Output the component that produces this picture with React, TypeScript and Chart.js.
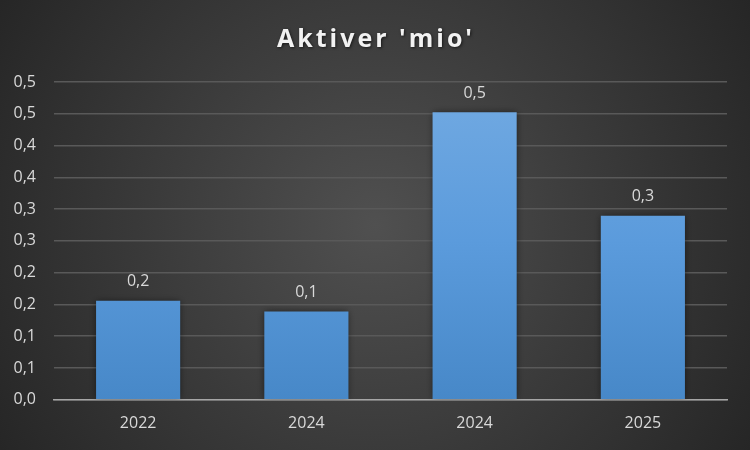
import React, { useEffect, useRef } from "react";
import { Chart, registerables } from "chart.js";

Chart.register(...registerables);

const categories = ["2022", "2024", "2024", "2025"];
const values = [0.156, 0.139, 0.4525, 0.2895];
const titleText = "Aktiver 'mio'";
const yMin = 0;
const yMax = 0.5;
const yStep = 0.05;

const fmt = (v: number) => (Math.round(v * 10 + 1e-6) / 10).toFixed(1).replace(".", ",");

const bgPlugin = {
  id: "bgPlugin",
  beforeDraw(chart: any) {
    const { ctx, width, height } = chart;
    ctx.save();
    const g = ctx.createRadialGradient(width / 2, height / 2, 0, width / 2, height / 2, Math.sqrt(width * width + height * height) / 2);
    g.addColorStop(0, "#505050");
    g.addColorStop(1, "#262626");
    ctx.fillStyle = g;
    ctx.fillRect(0, 0, width, height);
    ctx.restore();
  },
  afterDraw(chart: any) {
    const { ctx, width } = chart;
    ctx.save();
    ctx.font = "bold 25px 'Open Sans'";
    (ctx as any).letterSpacing = "3px";
    ctx.fillStyle = "#f2f2f2";
    ctx.textAlign = "center";
    ctx.textBaseline = "middle";
    ctx.shadowColor = "rgba(0,0,0,0.6)";
    ctx.shadowBlur = 3;
    ctx.shadowOffsetX = 1;
    ctx.shadowOffsetY = 1;
    ctx.fillText(titleText, width / 2 + 1, 40);
    ctx.restore();
  },
};

const shadowPlugin = {
  id: "shadowPlugin",
  beforeDatasetsDraw(chart: any) {
    const ctx = chart.ctx;
    ctx.save();
    ctx.shadowColor = "rgba(0,0,0,0.55)";
    ctx.shadowBlur = 7;
    ctx.shadowOffsetX = 0;
    ctx.shadowOffsetY = 0;
  },
  afterDatasetsDraw(chart: any) {
    chart.ctx.restore();
  },
};

const labelPlugin = {
  id: "labelPlugin",
  afterDatasetsDraw(chart: any) {
    const { ctx } = chart;
    const meta = chart.getDatasetMeta(0);
    ctx.save();
    ctx.font = "16px 'Open Sans'";
    ctx.fillStyle = "#d9d9d9";
    ctx.textAlign = "center";
    ctx.textBaseline = "bottom";
    meta.data.forEach((bar: any, i: number) => {
      ctx.fillText(fmt(values[i]), bar.x, bar.y - 11);
    });
    ctx.restore();
  },
};

export default function App() {
  const ref = useRef<HTMLCanvasElement | null>(null);
  useEffect(() => {
    document.body.style.margin = "0";
    const canvas = ref.current!;
    const chart = new Chart(canvas, {
      type: "bar",
      data: {
        labels: categories,
        datasets: [
          {
            data: values,
            backgroundColor: (c: any) => {
              const area = c.chart.chartArea;
              if (!area) return "#5b9bd5";
              const g = c.chart.ctx.createLinearGradient(0, area.top, 0, area.bottom);
              g.addColorStop(0, "#72aae2");
              g.addColorStop(0.5, "#5b9bdc");
              g.addColorStop(1, "#4788c8");
              return g;
            },
            borderWidth: 0,
            categoryPercentage: 1,
            barPercentage: 0.5,
          },
        ],
      },
      options: {
        responsive: false,
        animation: false,
        devicePixelRatio: 1,
        layout: { padding: { left: 0, right: 23, top: 82, bottom: 11 } },
        plugins: {
          legend: { display: false },
          tooltip: { enabled: false },
          title: { display: false },
        },
        scales: {
          x: {
            grid: { display: false },
            border: { display: true, color: "#a6a6a6", width: 1.5 },
            ticks: { color: "#d9d9d9", font: { family: "'Open Sans'", size: 16 }, padding: 6 },
          },
          y: {
            min: yMin,
            max: yMax,
            grid: { color: "#595959", lineWidth: 1.5, drawTicks: false },
            border: { display: false },
            afterFit: (s: any) => {
              s.width = 54;
            },
            ticks: {
              stepSize: yStep,
              color: "#d9d9d9",
              font: { family: "'Open Sans'", size: 16 },
              padding: 18,
              callback: (v: any) => fmt(Number(v)),
            },
          },
        },
      },
      plugins: [bgPlugin, shadowPlugin, labelPlugin],
    } as any);
    return () => chart.destroy();
  }, []);
  return <canvas ref={ref} width={750} height={450} style={{ display: "block" }} />;
}
